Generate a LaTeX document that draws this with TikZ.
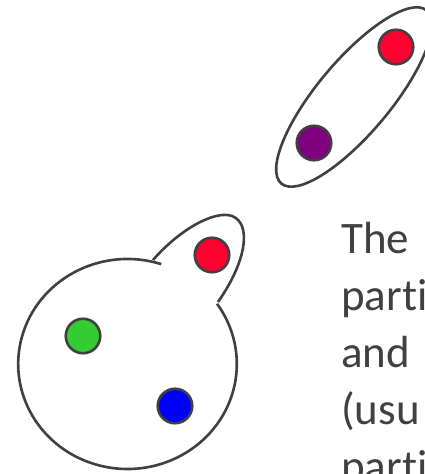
\documentclass[tikz,border=0pt]{standalone}
\usepackage{fontspec}
\setmainfont{Carlito}[Ligatures={NoCommon}]
\usepackage{tikz}
\usetikzlibrary{positioning}
\definecolor{inkgray}{HTML}{404040}
\definecolor{dotred}{HTML}{FF0030}
\definecolor{dotpurple}{HTML}{800080}
\definecolor{dotgreen}{HTML}{33CC33}
\definecolor{dotblue}{HTML}{0000FF}
\tikzset{
    outline/.style={draw=inkgray, line width=2.6pt},
    dot/.style={circle, draw=inkgray, line width=2.6pt, minimum size=34.5pt, inner sep=0pt},
    txtline/.style={anchor=base west, inner sep=0pt, text=inkgray,
        font=\fontsize{45}{55}\selectfont}
}

\begin{document}
\begin{tikzpicture}[x=1pt, y=1pt]
    \useasboundingbox (0,0) rectangle (425,474);
    \clip (0,0) rectangle (425,474);

    % pair in the long ellipse
    \draw[outline] (354,377) ellipse[x radius=113, y radius=36.5, rotate=50];
    \node[dot, fill=dotred] (redtop) at (396,427) {};
    \node[dot, fill=dotpurple] (purple) at (314,331) {};

    % big set with a lobe
    \draw[outline] (127.5,110) ++(72:109.3 and 105) arc[start angle=72, end angle=395, x radius=109.3, y radius=105];
    \draw[outline] (153,214) .. controls (180,245) and (215,264) .. (232,258)
        .. controls (251,251) and (248,215) .. (218,172);
    \node[dot, fill=dotred] (redlobe) at (212,219) {};
    \node[dot, fill=dotgreen] (green) at (83,138) {};
    \node[dot, fill=dotblue] (blue) at (175,68) {};

    % text running off the edge
    \node[txtline] (line1) at (341,220) {The};
    \node[txtline] (line2) at (341,163) {part\kern0pt i};
    \node[txtline] (line3) at (341,106) {and};
    \node[txtline] (line4) at (341,49) {(usu};
    \node[txtline] (line5) at (341,-8) {part\kern0pt i};
\end{tikzpicture}
\end{document}
